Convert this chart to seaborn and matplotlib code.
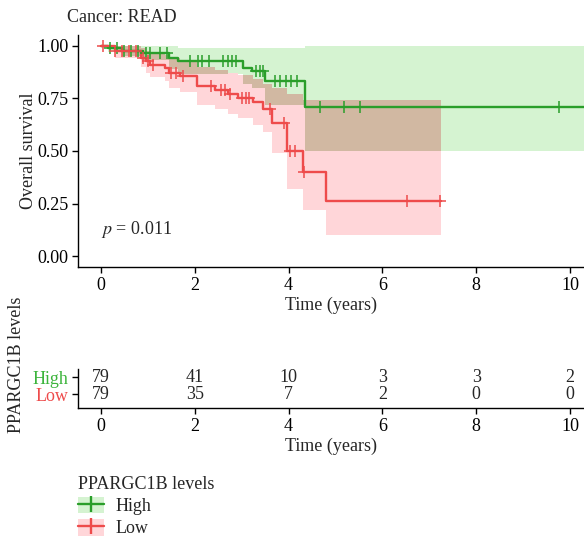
import numpy as np
import pandas as pd
import seaborn as sns
import matplotlib.pyplot as plt
from matplotlib.patches import Patch
from matplotlib.lines import Line2D

# KM step points (time in years, survival after step)
high_t = [0, 0.15, 0.45, 0.9, 1.46, 1.64, 3.03, 3.21, 3.5, 4.35, 10.6]
high_s = [1.0, 0.99, 0.975, 0.965, 0.94, 0.925, 0.895, 0.88, 0.83, 0.708, 0.708]
high_lo = [1.0, 0.97, 0.95, 0.93, 0.89, 0.865, 0.82, 0.80, 0.72, 0.50, 0.50]
high_hi = [1.0, 1.0, 1.0, 1.0, 1.0, 0.99, 0.99, 0.99, 0.99, 1.0, 1.0]
high_cens = [0.2, 0.35, 0.5, 0.65, 0.8, 0.95, 1.05, 1.25, 1.4, 1.9, 2.07, 2.15, 2.3,
             2.6, 2.7, 2.8, 2.88, 3.3, 3.4, 3.45, 3.72, 3.82, 3.95, 4.05, 4.18,
             4.67, 5.18, 5.52, 9.77]

low_t = [0, 0.3, 0.86, 0.95, 1.05, 1.36, 1.46, 1.68, 2.05, 2.43, 2.7, 2.92, 3.24,
         3.45, 3.64, 3.96, 4.3, 4.79, 7.26]
low_s = [1.0, 0.973, 0.94, 0.926, 0.91, 0.895, 0.87, 0.855, 0.808, 0.79, 0.77,
         0.753, 0.73, 0.70, 0.635, 0.50, 0.40, 0.265, 0.265]
low_lo = [1.0, 0.94, 0.90, 0.87, 0.85, 0.83, 0.80, 0.78, 0.72, 0.70, 0.675, 0.655,
          0.625, 0.59, 0.49, 0.32, 0.22, 0.10, 0.10]
low_hi = [1.0, 1.0, 0.99, 0.975, 0.965, 0.955, 0.94, 0.93, 0.90, 0.885, 0.87, 0.86,
          0.84, 0.82, 0.80, 0.77, 0.74, 0.74, 0.74]
low_cens = [0.05, 0.3, 0.45, 0.6, 0.75, 0.9, 1.0, 1.1, 1.5, 1.6, 1.75, 2.35, 2.55,
            2.65, 2.75, 3.0, 3.1, 3.15, 3.6, 3.9, 4.03, 4.14, 4.33, 6.52, 7.23]

risk_times = [0, 2, 4, 6, 8, 10]
risk_high = [79, 41, 10, 3, 3, 2]
risk_low = [79, 35, 7, 2, 0, 0]

groups = ["High", "Low"]
line_col = {"High": "#2A9E2A", "Low": "#EE4B4B"}
fill_col = {"High": "#D5F3D1", "Low": "#FFD6D9"}
overlap_col = "#D1B8A2"
label_col = {"High": "#3CB43C", "Low": "#EE4B4B"}

sns.set_theme(style="ticks")
plt.rcParams["font.family"] = ["Liberation Serif", "DejaVu Serif"]
plt.rcParams["mathtext.fontset"] = "stix"
plt.rcParams["font.size"] = 13

curves = {
    "High": (high_t, high_s, high_lo, high_hi, high_cens),
    "Low": (low_t, low_s, low_lo, low_hi, low_cens),
}


def step_at(t, v, x):
    idx = np.searchsorted(t, x, side="right") - 1
    return np.asarray(v)[np.clip(idx, 0, len(v) - 1)]


rows = []
cens_rows = []
for g, (t, s, lo, hi, cens) in curves.items():
    for ti, si in zip(t, s):
        rows.append({"time": ti, "surv": si, "group": g})
    for c in cens:
        cens_rows.append({"time": c, "surv": float(step_at(t, s, c)), "group": g})
df = pd.DataFrame(rows)
cens_df = pd.DataFrame(cens_rows)

fig = plt.figure(figsize=(5.84, 5.39), dpi=100)
W, H = 584, 539
ax = fig.add_axes([78 / W, 1 - 267 / H, 1 - 78 / W, (267 - 35) / H])

# confidence bands, overlap drawn darker like the original
for g, (t, s, lo, hi, cens) in curves.items():
    ax.fill_between(t, lo, hi, step="post", color=fill_col[g], lw=0)
grid = np.unique(np.concatenate([high_t, low_t]))
grid = grid[grid <= max(low_t)]
ov_lo = np.maximum(step_at(high_t, high_lo, grid), step_at(low_t, low_lo, grid))
ov_hi = np.minimum(step_at(high_t, high_hi, grid), step_at(low_t, low_hi, grid))
ax.fill_between(grid, ov_lo, ov_hi, where=ov_hi > ov_lo, step="post",
                color=overlap_col, lw=0, interpolate=False)

sns.lineplot(data=df, x="time", y="surv", hue="group", palette=line_col,
             estimator=None, drawstyle="steps-post", lw=1.7, legend=False, ax=ax)
for g in groups:
    sub = cens_df[cens_df.group == g]
    ax.plot(sub.time, sub.surv, ls="none", marker="+", ms=8, mew=1.1, color=line_col[g])

ax.set_xlim(-0.49, 10.3)
ax.set_ylim(-0.05, 1.05)
ax.set_xticks(risk_times)
ax.set_yticks([0, 0.25, 0.5, 0.75, 1.0])
ax.set_yticklabels(["0.00", "0.25", "0.50", "0.75", "1.00"])
ax.set_xlabel("Time (years)", fontsize=13, labelpad=2)
ax.set_ylabel("Overall survival", fontsize=13, labelpad=0)
ax.tick_params(labelsize=13, length=4, width=1, colors="black", pad=3)
sns.despine(ax=ax)
for sp in ["left", "bottom"]:
    ax.spines[sp].set_color("black")
    ax.spines[sp].set_linewidth(1)
ax.text(0, 0.13, "$p$ = 0.011", fontsize=13, ha="left", va="center")
fig.text(67 / W, 1 - 17 / H, "Cancer: READ", fontsize=13, ha="left", va="center")

# risk table
ax2 = fig.add_axes([78 / W, 1 - 408 / H, 1 - 78 / W, (408 - 369) / H])
for x, n in zip(risk_times, risk_high):
    ax2.text(x, 1, str(n), ha="center", va="center", fontsize=13)
for x, n in zip(risk_times, risk_low):
    ax2.text(x, 0, str(n), ha="center", va="center", fontsize=13)
ax2.set_xlim(-0.49, 10.3)
ax2.set_ylim(-0.82, 1.47)
ax2.set_xticks(risk_times)
ax2.set_yticks([0, 1])
ax2.set_yticklabels(["Low", "High"])
ax2.set_xlabel("Time (years)", fontsize=13, labelpad=2)
ax2.set_ylabel("PPARGC1B levels", fontsize=13)
ax2.yaxis.set_label_coords(-0.105, 1.1)
ax2.tick_params(labelsize=13, length=4, width=1, colors="black", pad=3)
for lab in ax2.get_yticklabels():
    lab.set_color(label_col[lab.get_text()])
sns.despine(ax=ax2)
for sp in ["left", "bottom"]:
    ax2.spines[sp].set_color("black")
    ax2.spines[sp].set_linewidth(1)

# legend
handles = []
for g in groups:
    handles.append((Patch(facecolor=fill_col[g], lw=0),
                    Line2D([], [], color=line_col[g], lw=1.7, marker="|", ms=12, mew=1.7)))
leg = fig.legend(handles, groups, title="PPARGC1B levels", loc="upper left",
                 bbox_to_anchor=(69 / W, 1 - 467 / H), frameon=False, fontsize=13,
                 title_fontsize=13, handlelength=1.45, handleheight=1.05,
                 handletextpad=0.6, labelspacing=0.2, borderpad=0)
leg._legend_box.align = "left"

fig.savefig("out.png", dpi=100)
